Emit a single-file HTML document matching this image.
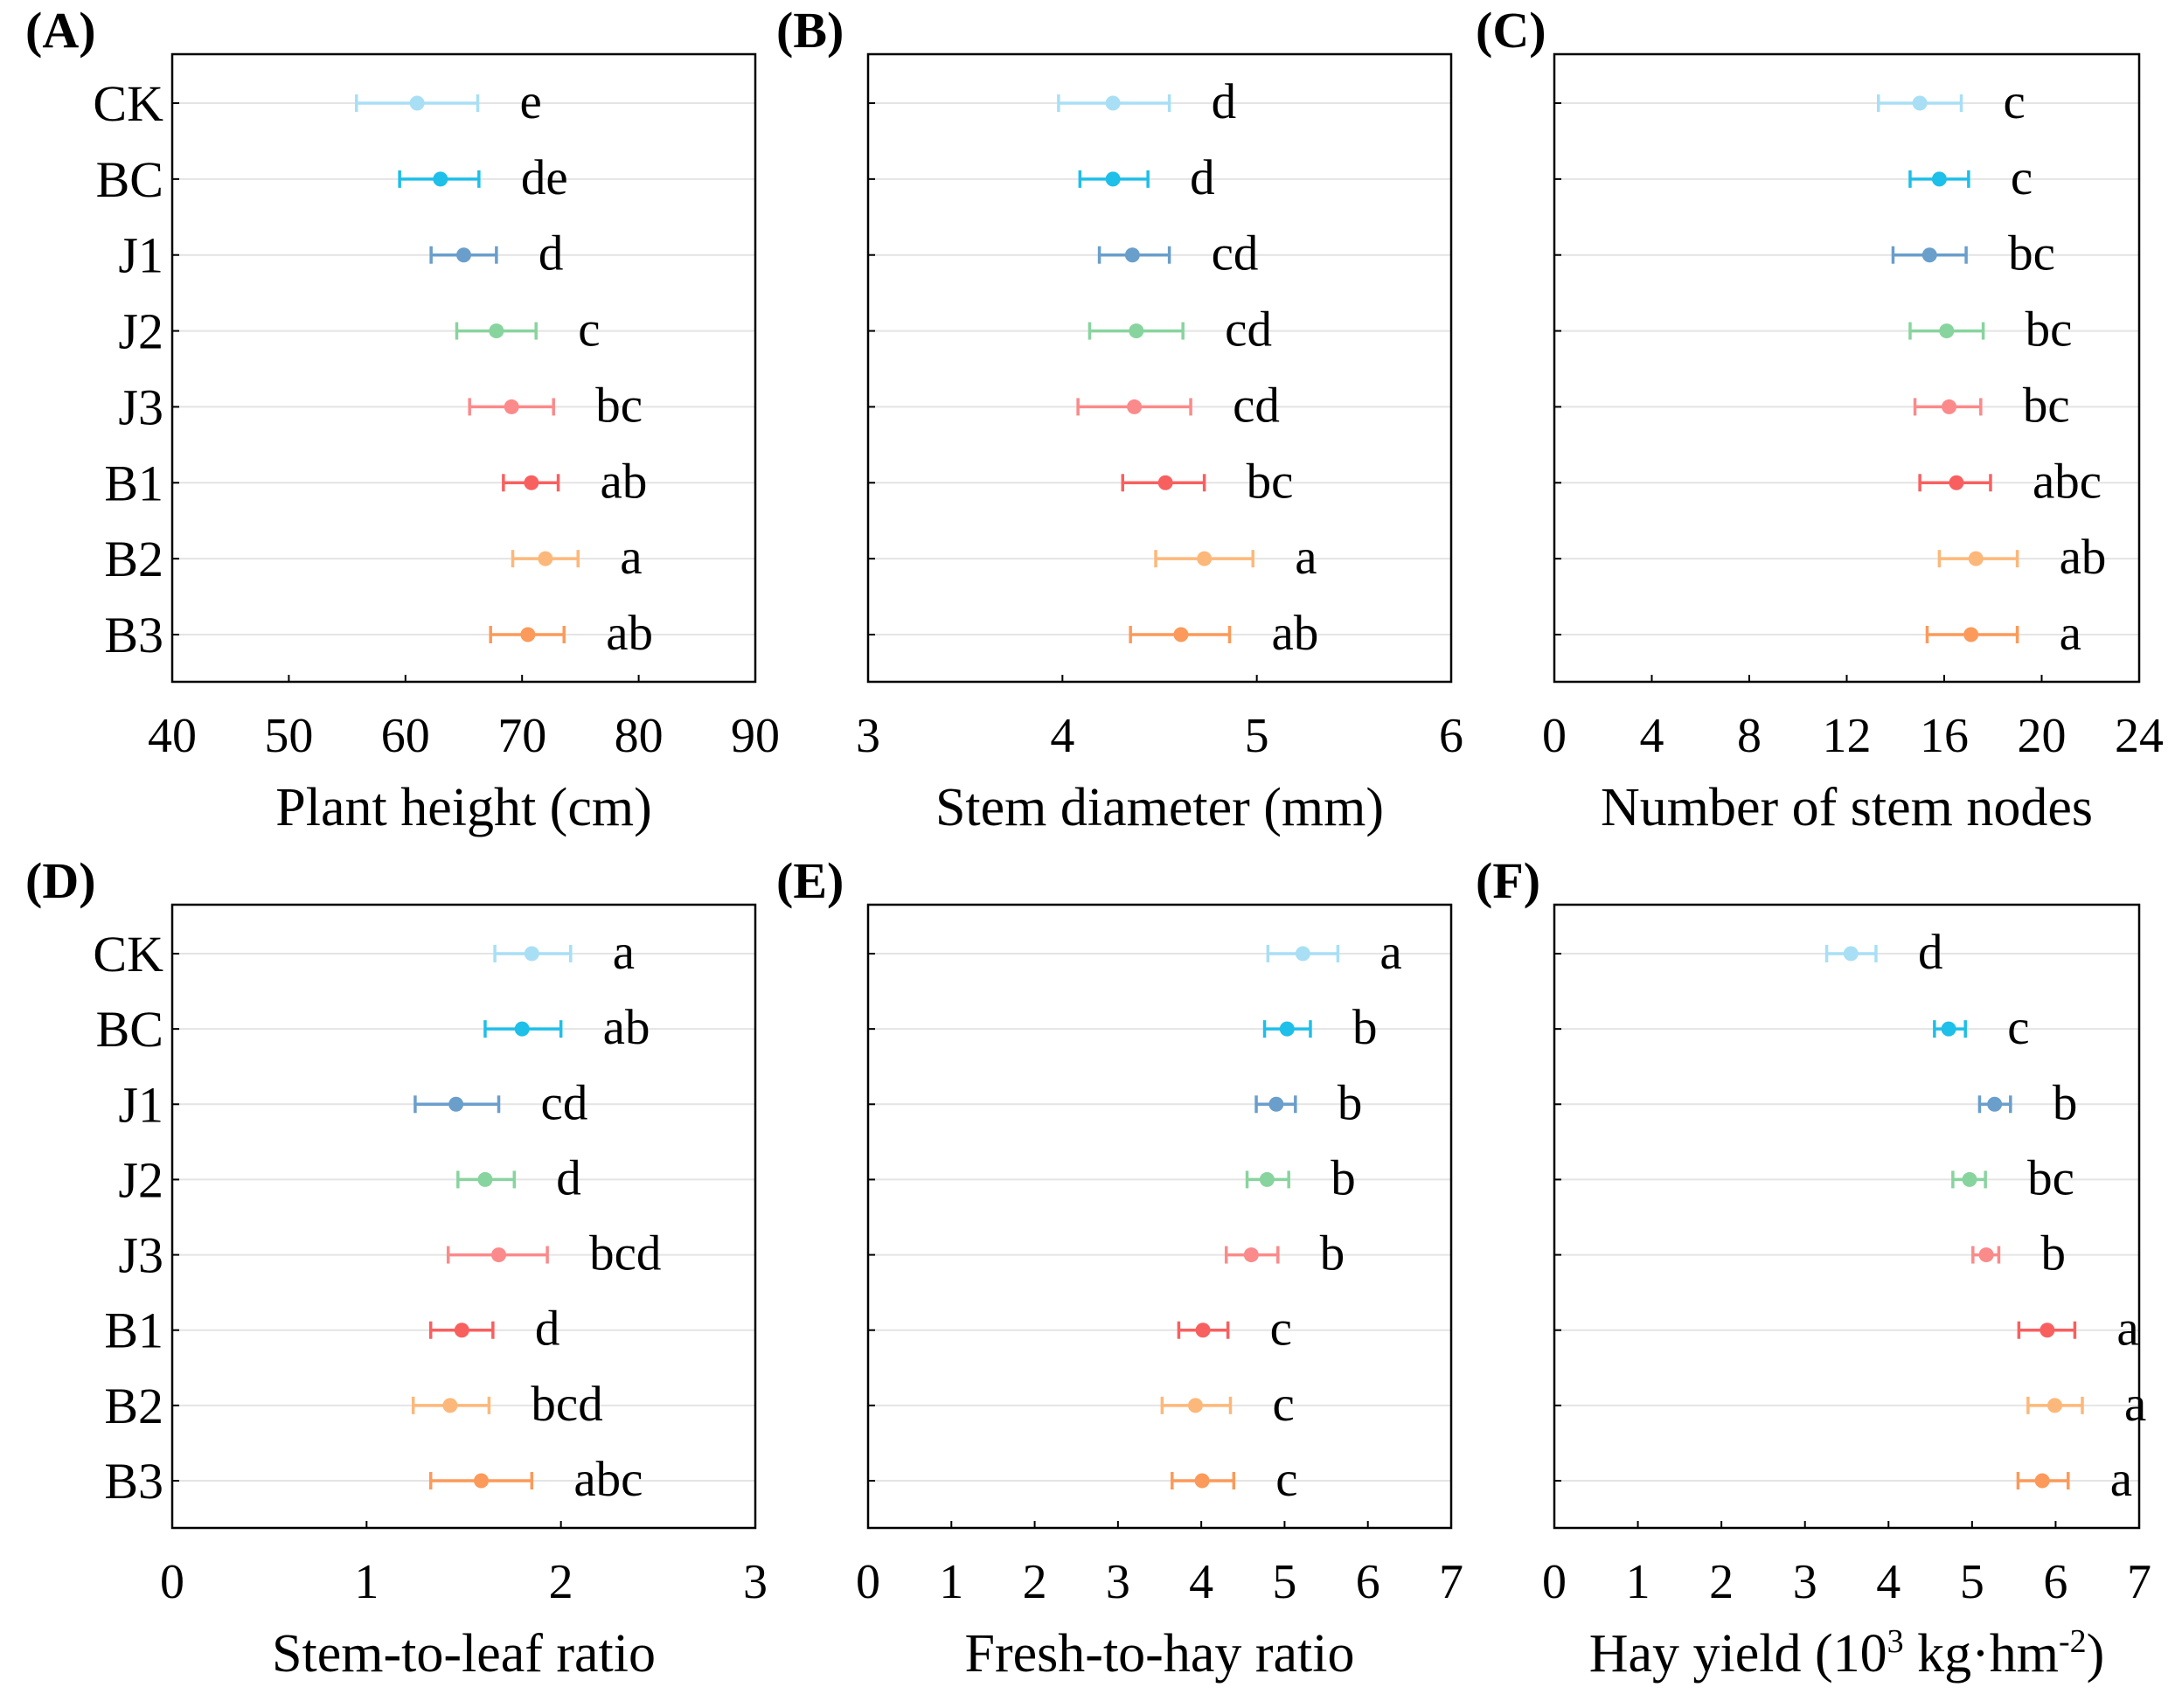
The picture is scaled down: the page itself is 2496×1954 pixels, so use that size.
<!DOCTYPE html>
<html><head><meta charset="utf-8">
<style>
html,body{margin:0;padding:0;background:#fff;}
svg{display:block;font-family:"Liberation Serif",serif;}
</style></head>
<body>
<svg id="chart" width="2496" height="1954" viewBox="0 0 2496 1954" xmlns="http://www.w3.org/2000/svg"></svg>
<script>
const categories = ["CK","BC","J1","J2","J3","B1","B2","B3"];
const colors = ["#a8dff5","#1ebfe8","#6a9ecb","#88d49e","#fb8a8a","#f86060","#fcb87a","#fb9a5a"];

const meanA = [61, 63, 65, 67.8, 69.1, 70.8, 72, 70.5];
const loA   = [55.8, 59.5, 62.2, 64.4, 65.5, 68.4, 69.2, 67.3];
const hiA   = [66.2, 66.3, 67.8, 71.2, 72.7, 73.1, 74.8, 73.6];
const letA  = ["e","de","d","c","bc","ab","a","ab"];
const ticksA = [40,50,60,70,80,90];

const meanB = [4.26, 4.26, 4.36, 4.38, 4.37, 4.53, 4.73, 4.61];
const loB   = [3.98, 4.09, 4.19, 4.14, 4.08, 4.31, 4.48, 4.35];
const hiB   = [4.55, 4.44, 4.55, 4.62, 4.66, 4.73, 4.98, 4.86];
const letB  = ["d","d","cd","cd","cd","bc","a","ab"];
const ticksB = [3,4,5,6];

const meanC = [15.0, 15.8, 15.4, 16.1, 16.2, 16.5, 17.3, 17.1];
const loC   = [13.3, 14.6, 13.9, 14.6, 14.8, 15.0, 15.8, 15.3];
const hiC   = [16.7, 17.0, 16.9, 17.6, 17.5, 17.9, 19.0, 19.0];
const letC  = ["c","c","bc","bc","bc","abc","ab","a"];
const ticksC = [0,4,8,12,16,20,24];

const meanD = [1.85, 1.80, 1.46, 1.61, 1.68, 1.49, 1.43, 1.59];
const loD   = [1.66, 1.61, 1.25, 1.47, 1.42, 1.33, 1.24, 1.33];
const hiD   = [2.05, 2.00, 1.68, 1.76, 1.93, 1.65, 1.63, 1.85];
const letD  = ["a","ab","cd","d","bcd","d","bcd","abc"];
const ticksD = [0,1,2,3];

const meanE = [5.22, 5.03, 4.90, 4.79, 4.60, 4.02, 3.93, 4.01];
const loE   = [4.80, 4.76, 4.66, 4.55, 4.30, 3.73, 3.53, 3.65];
const hiE   = [5.64, 5.31, 5.13, 5.05, 4.92, 4.32, 4.35, 4.39];
const letE  = ["a","b","b","b","b","c","c","c"];
const ticksE = [0,1,2,3,4,5,6,7];

const meanF = [3.55, 4.72, 5.27, 4.97, 5.17, 5.90, 5.99, 5.84];
const loF   = [3.26, 4.55, 5.09, 4.77, 5.01, 5.56, 5.67, 5.55];
const hiF   = [3.85, 4.92, 5.46, 5.16, 5.32, 6.23, 6.32, 6.15];
const letF  = ["d","c","b","bc","b","a","a","a"];
const ticksF = [0,1,2,3,4,5,6,7];

const NS = "http://www.w3.org/2000/svg";
const svg = document.getElementById("chart");
function mk(tag, attrs, parent){
  const e = document.createElementNS(NS, tag);
  for (const k in attrs) e.setAttribute(k, attrs[k]);
  (parent||svg).appendChild(e);
  return e;
}

const panels = [
  {id:"a", tag:"(A)", lx:29,   x0:197, x1:864, y0:62, y1:780, mean:meanA, lo:loA, hi:hiA, let:letA, ticks:ticksA, title:"Plant height (cm)", ylab:true},
  {id:"b", tag:"(B)", lx:888,  x0:993, x1:1660, y0:62, y1:780, mean:meanB, lo:loB, hi:hiB, let:letB, ticks:ticksB, title:"Stem diameter (mm)", ylab:false},
  {id:"c", tag:"(C)", lx:1688, x0:1778, x1:2447, y0:62, y1:780, mean:meanC, lo:loC, hi:hiC, let:letC, ticks:ticksC, title:"Number of stem nodes", ylab:false},
  {id:"d", tag:"(D)", lx:29,   x0:197, x1:864, y0:1035, y1:1748, mean:meanD, lo:loD, hi:hiD, let:letD, ticks:ticksD, title:"Stem-to-leaf ratio", ylab:true},
  {id:"e", tag:"(E)", lx:888,  x0:993, x1:1660, y0:1035, y1:1748, mean:meanE, lo:loE, hi:hiE, let:letE, ticks:ticksE, title:"Fresh-to-hay ratio", ylab:false},
  {id:"f", tag:"(F)", lx:1688, x0:1778, x1:2447, y0:1035, y1:1748, mean:meanF, lo:loF, hi:hiF, let:letF, ticks:ticksF, title:"Hay yield", ylab:false}
];

panels.forEach(p => {
  const g = mk("g", {});
  
  
  const tmin = p.ticks[0], tmax = p.ticks[p.ticks.length-1];
  const xs = v => p.x0 + (v - tmin) / (tmax - tmin) * (p.x1 - p.x0);
  const top = p.y0 + 56, step = (p.y1 - p.y0 - 56 - 54) / 7;
  const ys = i => top + i * step;

  const lab = mk("text", {x: p.lx, y: p.y0 - 8, "font-size": 58, "font-weight": "bold"}, g);
  lab.textContent = p.tag;
  
  

  categories.forEach((c, i) => {
    const gl = mk("line", {x1:p.x0, x2:p.x1, y1:ys(i), y2:ys(i), stroke:"#e4e4e4", "stroke-width":2}, g);
    
    
    mk("line", {x1:p.x0, x2:p.x0+8, y1:ys(i), y2:ys(i), stroke:"#000", "stroke-width":2}, g);
    if (p.ylab) {
      const t = mk("text", {x:p.x0-10, y:ys(i)+20, "font-size":58, "text-anchor":"end"}, g);
      t.textContent = c;
      
      
    }
  });

  const fr = mk("rect", {x:p.x0, y:p.y0, width:p.x1-p.x0, height:p.y1-p.y0, fill:"none", stroke:"#000", "stroke-width":2.5}, g);
  
  

  p.ticks.forEach(t => {
    const x = xs(t);
    mk("line", {x1:x, x2:x, y1:p.y1, y2:p.y1-8, stroke:"#000", "stroke-width":2}, g);
    const tl = mk("text", {x:x, y:p.y1+80, "font-size":56, "text-anchor":"middle"}, g);
    tl.textContent = t;
    
    
  });

  const at = mk("text", {x:(p.x0+p.x1)/2, y:p.y1+164, "font-size":62, "text-anchor":"middle"}, g);
  
  
  if (p.id === "f") {
    at.textContent = "Hay yield (10";
    const s1 = mk("tspan", {"font-size":38, dy:-22}, at); s1.textContent = "3";
    const s2 = mk("tspan", {dy:22}, at); s2.textContent = " kg·hm";
    const s3 = mk("tspan", {"font-size":38, dy:-22}, at); s3.textContent = "-2";
    const s4 = mk("tspan", {dy:22}, at); s4.textContent = ")";
  } else {
    at.textContent = p.title;
  }

  p.mean.forEach((m, i) => {
    const y = ys(i), col = colors[i];
    const eb = mk("g", {stroke:col, "stroke-width":3.5}, g);
    
    
    mk("line", {x1:xs(p.lo[i]), x2:xs(p.hi[i]), y1:y, y2:y}, eb);
    mk("line", {x1:xs(p.lo[i]), x2:xs(p.lo[i]), y1:y-10, y2:y+10}, eb);
    mk("line", {x1:xs(p.hi[i]), x2:xs(p.hi[i]), y1:y-10, y2:y+10}, eb);
    const pt = mk("circle", {cx:xs(m), cy:y, r:8.5, fill:col}, g);
    
    
    const lt = mk("text", {x:xs(p.hi[i])+48, y:y+17, "font-size":57}, g);
    lt.textContent = p.let[i];
    
    
  });
});
</script>
</body></html>
